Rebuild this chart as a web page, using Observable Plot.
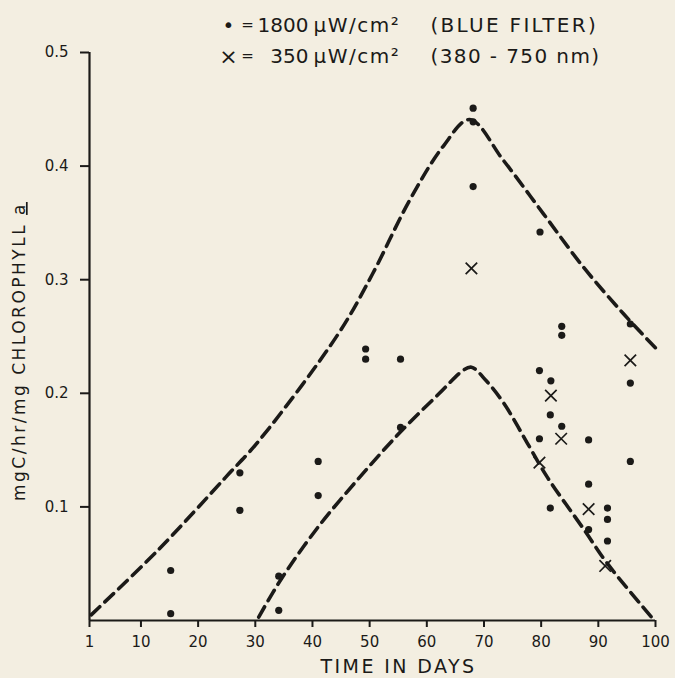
<!DOCTYPE html>
<html><head><meta charset="utf-8">
<script src="https://cdn.jsdelivr.net/npm/d3@7"></script>
<script src="https://cdn.jsdelivr.net/npm/@observablehq/plot@0.6"></script>
<style>html,body{margin:0;padding:0;background:#f3eee1;} svg{display:block}</style>
</head><body><div id="chart"></div>
<script>
// ---- data ----
const dotDays   = [15.2, 15.2, 27.3, 27.3, 34.1, 34.1, 41.0, 41.0, 49.3, 49.3, 55.4, 55.4, 68.1, 68.1, 68.1, 79.8, 79.7, 79.7, 81.7, 81.6, 81.6, 83.6, 83.6, 83.6, 88.3, 88.3, 88.3, 91.6, 91.6, 91.6, 95.6, 95.6, 95.6];
const dotValues = [0.044, 0.006, 0.130, 0.097, 0.039, 0.009, 0.140, 0.110, 0.239, 0.230, 0.230, 0.170, 0.451, 0.439, 0.382, 0.342, 0.220, 0.160, 0.211, 0.181, 0.099, 0.259, 0.251, 0.171, 0.159, 0.120, 0.080, 0.099, 0.089, 0.070, 0.261, 0.209, 0.140];
const crossDays   = [67.8, 81.7, 83.5, 79.7, 88.3, 91.2, 95.6];
const crossValues = [0.310, 0.198, 0.160, 0.139, 0.098, 0.048, 0.229];
const upperCurveDays   = [1.3, 13.0, 24.8, 30.6, 44.6, 50.5, 57.0, 62.8, 67.5, 73.4, 80.4, 87.4, 94.4, 100];
const upperCurveValues = [0.005, 0.062, 0.126, 0.158, 0.253, 0.305, 0.370, 0.417, 0.441, 0.405, 0.358, 0.311, 0.270, 0.240];
const lowerCurveDays   = [30.6, 34.6, 41.1, 47.9, 55.2, 62.2, 66.3, 67.8, 70.4, 73.5, 77.6, 81.1, 87.5, 91.6, 99.8];
const lowerCurveValues = [0.003, 0.037, 0.083, 0.124, 0.165, 0.200, 0.220, 0.223, 0.211, 0.191, 0.156, 0.126, 0.080, 0.050, 0.000];
const xTicks = [1, 10, 20, 30, 40, 50, 60, 70, 80, 90, 100];
const yTicks = [0.1, 0.2, 0.3, 0.4, 0.5];
const xLabel = "TIME IN DAYS";
const yLabelMain = "mgC/hr/mg CHLOROPHYLL ";
const yLabelSub = "a";
const legendSymbols = ["•", "×"];
const legendIntensity = ["1800", "350"];
const legendUnit = "μW/cm²";
const legendNotes = ["(BLUE FILTER)", "(380 - 750 nm)"];

// ---- tables ----
const dots = dotDays.map((d, i) => ({day: d, value: dotValues[i]}));
const crosses = crossDays.map((d, i) => ({day: d, value: crossValues[i]}));
const upper = upperCurveDays.map((d, i) => ({day: d, value: upperCurveValues[i]}));
const lower = lowerCurveDays.map((d, i) => ({day: d, value: lowerCurveValues[i]}));

const ink = "#1b1a18";
const font = "DejaVu Sans";
const rowDy = [-27, 4];

const legendMarks = legendSymbols.flatMap((s, i) => [
  Plot.text([s], {text: d => d, frameAnchor: "top-left", dx: 139, dy: rowDy[i], fontSize: i === 0 ? 20 : 22, textAnchor: "middle", lineAnchor: "middle", fill: ink}),
  Plot.text(["="], {text: d => d, frameAnchor: "top-left", dx: 158, dy: rowDy[i], fontSize: 15, textAnchor: "middle", lineAnchor: "middle", fill: ink}),
  Plot.text([legendIntensity[i]], {text: d => d, frameAnchor: "top-left", dx: 219, dy: rowDy[i], fontSize: 20, textAnchor: "end", lineAnchor: "middle", fill: ink}),
  Plot.text([legendUnit], {text: d => d, frameAnchor: "top-left", dx: 224, dy: rowDy[i], fontSize: 20, textAnchor: "start", lineAnchor: "middle", fill: ink}),
  Plot.text([legendNotes[i]], {text: d => d, frameAnchor: "top-left", dx: 341, dy: rowDy[i], fontSize: 20, textAnchor: "start", lineAnchor: "middle", fill: ink})
]);

const chart = Plot.plot({
  width: 675,
  height: 678,
  marginLeft: 89,
  marginRight: 20,
  marginTop: 52,
  marginBottom: 58,
  style: {fontFamily: font, fontSize: "15px", background: "#f3eee1", color: ink},
  x: {domain: [1, 100]},
  y: {domain: [0, 0.5]},
  marks: [
    Plot.line(upper, {x: "day", y: "value", curve: "catmull-rom", stroke: ink, strokeWidth: 3.6, strokeDasharray: "12,7"}),
    Plot.line(lower, {x: "day", y: "value", curve: "catmull-rom", stroke: ink, strokeWidth: 3.6, strokeDasharray: "12,7"}),
    Plot.dot(dots, {x: "day", y: "value", r: 3.6, fill: ink}),
    Plot.dot(crosses, {x: "day", y: "value", symbol: "times", r: 5.3, stroke: ink, strokeWidth: 1.7}),
    Plot.ruleY([0], {stroke: ink, strokeWidth: 2.2}),
    Plot.ruleX([1], {stroke: ink, strokeWidth: 2.2}),
    Plot.axisX({ticks: xTicks, tickSize: 7, tickPadding: 9, tickFormat: d => String(d), label: null, stroke: ink, strokeWidth: 2, fill: ink}),
    Plot.axisY({ticks: yTicks, tickSize: 9, tickPadding: 12, tickFormat: d => d.toFixed(1), label: null, stroke: ink, strokeWidth: 2, fill: ink}),
    Plot.text([xLabel], {text: d => d, frameAnchor: "bottom", dx: 26, dy: 46, fontSize: 19, textAnchor: "middle", lineAnchor: "middle", fill: ink}),
    Plot.text([yLabelMain + yLabelSub], {text: d => d, frameAnchor: "left", dx: -70, dy: 15, rotate: -90, fontSize: 17, textAnchor: "middle", lineAnchor: "middle", fill: ink}),
    ...legendMarks
  ]
});

// letter spacing and underline tweaks
chart.querySelectorAll("text").forEach(t => {
  const s = t.textContent;
  if (s === xLabel) t.setAttribute("letter-spacing", "2.4");
  else if (s === yLabelMain + yLabelSub) {
    t.setAttribute("letter-spacing", "2.5");
    t.textContent = yLabelMain;
    const ts = document.createElementNS("http://www.w3.org/2000/svg", "tspan");
    ts.textContent = yLabelSub;
    ts.setAttribute("text-decoration", "underline");
    t.appendChild(ts);
  }
  else if (s === legendNotes[0]) t.setAttribute("letter-spacing", "2.3");
  else if (s === legendNotes[1]) t.setAttribute("letter-spacing", "1.4");
  else if (legendUnit === s) t.setAttribute("letter-spacing", "1.5");
});
document.getElementById("chart").appendChild(chart);
</script>
</body></html>
